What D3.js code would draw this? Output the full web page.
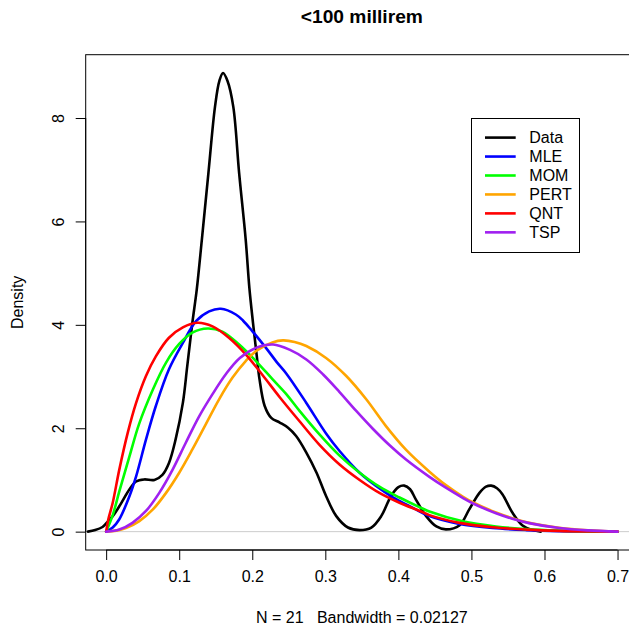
<!DOCTYPE html>
<html>
<head>
<meta charset="utf-8">
<script src="https://cdn.jsdelivr.net/npm/d3@7"></script>
<style>
  html, body { margin: 0; padding: 0; background: #fff; }
  svg { display: block; font-family: "Liberation Sans", Arial, Helvetica, sans-serif; }
</style>
</head>
<body>
<svg id="chart" width="629" height="631"></svg>
<script>
// Kernel density of the observations and the fitted densities, as [x, density] pairs
const dataDensity = [
  [-0.025, 0.00], [-0.015, 0.03], [-0.005, 0.09], [0.0, 0.16], [0.009, 0.30], [0.018, 0.49],
  [0.032, 0.82], [0.041, 0.97], [0.052, 1.01], [0.066, 1.00], [0.077, 1.10], [0.086, 1.33],
  [0.095, 1.78], [0.105, 2.49], [0.111, 3.20], [0.118, 4.04], [0.124, 4.68], [0.131, 5.65],
  [0.140, 6.94], [0.149, 8.22], [0.155, 8.72], [0.160, 8.87], [0.166, 8.72], [0.174, 8.22],
  [0.182, 6.94], [0.191, 5.65], [0.196, 4.72], [0.201, 4.04], [0.206, 3.42], [0.210, 2.94],
  [0.217, 2.43], [0.226, 2.20], [0.2376, 2.11], [0.249, 2.01], [0.260, 1.85], [0.274, 1.53],
  [0.288, 1.14], [0.301, 0.69], [0.315, 0.30], [0.331, 0.08], [0.347, 0.03], [0.363, 0.08],
  [0.3765, 0.30], [0.390, 0.69], [0.400, 0.86], [0.408, 0.89], [0.416, 0.82], [0.424, 0.62],
  [0.438, 0.30], [0.452, 0.10], [0.465, 0.045], [0.4835, 0.12], [0.497, 0.43], [0.511, 0.75],
  [0.520, 0.87], [0.527, 0.89], [0.535, 0.84], [0.5426, 0.72], [0.556, 0.37], [0.570, 0.12],
  [0.584, 0.03], [0.595, 0.00]
];
const mleDensity = [
  [0, 0], [0.009, 0.08], [0.018, 0.24], [0.032, 0.69], [0.041, 1.07], [0.0545, 1.78],
  [0.068, 2.43], [0.086, 3.14], [0.105, 3.65], [0.123, 4.07], [0.141, 4.26], [0.157, 4.31],
  [0.1775, 4.20], [0.1875, 4.08], [0.200, 3.88], [0.219, 3.55], [0.2335, 3.28], [0.247, 3.05],
  [0.274, 2.49], [0.301, 1.90], [0.3195, 1.56], [0.347, 1.14], [0.370, 0.88], [0.392, 0.67],
  [0.420, 0.46], [0.4425, 0.30], [0.4835, 0.15], [0.529, 0.07], [0.575, 0.03], [0.62, 0.01],
  [0.66, 0.003], [0.7, 0]
];
const momDensity = [
  [0, 0], [0.009, 0.32], [0.018, 0.78], [0.032, 1.46], [0.045, 2.08], [0.064, 2.75],
  [0.082, 3.27], [0.100, 3.63], [0.118, 3.85], [0.139, 3.93], [0.159, 3.87], [0.182, 3.62],
  [0.205, 3.30], [0.2276, 2.95], [0.246, 2.67], [0.265, 2.33], [0.292, 1.88], [0.3195, 1.47],
  [0.347, 1.14], [0.374, 0.87], [0.4015, 0.66], [0.4295, 0.47], [0.4425, 0.39], [0.488, 0.20],
  [0.5336, 0.10], [0.579, 0.045], [0.62, 0.02], [0.66, 0.006], [0.7, 0]
];
const pertDensity = [
  [0, 0], [0.014, 0.02], [0.027, 0.07], [0.045, 0.20], [0.064, 0.43], [0.082, 0.75],
  [0.100, 1.14], [0.118, 1.59], [0.1365, 2.08], [0.1546, 2.56], [0.173, 2.98], [0.191, 3.30],
  [0.2057, 3.50], [0.2276, 3.66], [0.242, 3.70], [0.258, 3.67], [0.274, 3.59], [0.301, 3.36],
  [0.3287, 3.01], [0.356, 2.56], [0.383, 2.04], [0.4106, 1.58], [0.4425, 1.16], [0.465, 0.90],
  [0.488, 0.68], [0.5016, 0.57], [0.5336, 0.37], [0.556, 0.26], [0.579, 0.17], [0.62, 0.075],
  [0.66, 0.025], [0.7, 0]
];
const qntDensity = [
  [0, 0], [0.003, 0.24], [0.009, 0.56], [0.018, 1.20], [0.0295, 1.91], [0.041, 2.49],
  [0.0545, 3.01], [0.068, 3.39], [0.086, 3.75], [0.105, 3.95], [0.125, 4.04], [0.1456, 3.97],
  [0.168, 3.75], [0.191, 3.43], [0.214, 3.03], [0.2376, 2.60], [0.265, 2.13], [0.292, 1.68],
  [0.3195, 1.30], [0.347, 1.00], [0.374, 0.75], [0.4015, 0.56], [0.4295, 0.40], [0.4425, 0.32],
  [0.4835, 0.17], [0.529, 0.085], [0.575, 0.04], [0.62, 0.015], [0.66, 0.005], [0.7, 0]
];
const tspDensity = [
  [0, 0], [0.018, 0.04], [0.036, 0.17], [0.0545, 0.40], [0.0727, 0.75], [0.091, 1.20],
  [0.109, 1.72], [0.1273, 2.23], [0.1456, 2.66], [0.164, 3.05], [0.183, 3.36], [0.2057, 3.56],
  [0.2285, 3.62], [0.251, 3.52], [0.274, 3.33], [0.297, 3.04], [0.3195, 2.70], [0.342, 2.34],
  [0.365, 1.99], [0.388, 1.67], [0.41, 1.40], [0.4425, 1.06], [0.465, 0.85], [0.488, 0.655],
  [0.5016, 0.55], [0.5336, 0.355], [0.556, 0.25], [0.579, 0.165], [0.62, 0.07], [0.66, 0.024],
  [0.7, 0]
];

const seriesNames = ["Data", "MLE", "MOM", "PERT", "QNT", "TSP"];
const xTicks = [0, 0.1, 0.2, 0.3, 0.4, 0.5, 0.6, 0.7];
const yTicks = [0, 2, 4, 6, 8];
const xLimits = [0, 0.7];
const yLimits = [0, 8.87];
const titleText = "<100 millirem";
const xLabelText = "N = 21   Bandwidth = 0.02127";
const yLabelText = "Density";

const seriesColors = {
  Data: "#000000", MLE: "#0000FF", MOM: "#00FF00",
  PERT: "#FFA500", QNT: "#FF0000", TSP: "#A020F0"
};
const seriesValues = {
  Data: dataDensity, MLE: mleDensity, MOM: momDensity,
  PERT: pertDensity, QNT: qntDensity, TSP: tspDensity
};

// plot region (axis limits padded by 4% on each side)
const plot = { left: 85.7, top: 54.7, right: 638, bottom: 550 };
const pad = (lim) => { const r = lim[1] - lim[0]; return [lim[0] - 0.04 * r, lim[1] + 0.04 * r]; };

const x = d3.scaleLinear().domain(pad(xLimits)).range([plot.left, plot.right]);
const y = d3.scaleLinear().domain(pad(yLimits)).range([plot.bottom, plot.top]);

const svg = d3.select("#chart");

svg.append("defs").append("clipPath").attr("id", "plotClip")
  .append("rect")
  .attr("x", plot.left).attr("y", plot.top)
  .attr("width", plot.right - plot.left).attr("height", plot.bottom - plot.top);

// zero reference line
svg.append("line")
  .attr("clip-path", "url(#plotClip)")
  .attr("x1", plot.left).attr("x2", plot.right)
  .attr("y1", y(0)).attr("y2", y(0))
  .attr("stroke", "#cccccc").attr("stroke-width", 1);

const line = d3.line()
  .x(d => x(d[0]))
  .y(d => y(d[1]))
  .curve(d3.curveCatmullRom.alpha(0.5));

const curves = svg.append("g").attr("clip-path", "url(#plotClip)");
seriesNames.forEach(name => {
  curves.append("path")
    .datum(seriesValues[name])
    .attr("d", line)
    .attr("fill", "none")
    .attr("stroke", seriesColors[name])
    .attr("stroke-width", 2.6)
    .attr("stroke-linejoin", "round")
    .attr("stroke-linecap", "round");
});

// plot box
svg.append("rect")
  .attr("x", plot.left).attr("y", plot.top)
  .attr("width", plot.right - plot.left).attr("height", plot.bottom - plot.top)
  .attr("fill", "none").attr("stroke", "#000").attr("stroke-width", 1);

// x axis
const xAxis = svg.append("g")
  .attr("transform", `translate(0,${plot.bottom})`)
  .call(d3.axisBottom(x).tickValues(xTicks).tickSize(10).tickPadding(11).tickFormat(d3.format(".1f")));
xAxis.select(".domain").attr("d", `M${x(xTicks[0])},0H${x(xTicks[xTicks.length - 1])}`).attr("stroke", "#000");
xAxis.selectAll(".tick line").attr("stroke", "#000");
xAxis.selectAll(".tick text").attr("font-size", 16).attr("fill", "#000")
  .attr("font-family", "Liberation Sans, Arial, sans-serif");

// y axis with labels rotated parallel to the axis
const yAxis = svg.append("g")
  .attr("transform", `translate(${plot.left},0)`)
  .call(d3.axisLeft(y).tickValues(yTicks).tickSize(10).tickFormat(d3.format("d")));
yAxis.select(".domain").attr("d", `M0,${y(yTicks[0])}V${y(yTicks[yTicks.length - 1])}`).attr("stroke", "#000");
yAxis.selectAll(".tick line").attr("stroke", "#000");
yAxis.selectAll(".tick text")
  .attr("x", null).attr("dy", null)
  .attr("text-anchor", "middle")
  .attr("transform", `translate(${64 - plot.left},0) rotate(-90)`)
  .attr("font-size", 16).attr("fill", "#000")
  .attr("font-family", "Liberation Sans, Arial, sans-serif");

// titles
const cx = (plot.left + plot.right) / 2;
svg.append("text")
  .attr("x", cx).attr("y", 22.5)
  .attr("text-anchor", "middle")
  .attr("font-size", 19.2).attr("font-weight", "bold")
  .text(titleText);
svg.append("text")
  .attr("x", cx).attr("y", 623.3)
  .attr("text-anchor", "middle")
  .attr("font-size", 16)
  .style("white-space", "pre")
  .text(xLabelText);
svg.append("text")
  .attr("transform", `translate(23,${(plot.top + plot.bottom) / 2}) rotate(-90)`)
  .attr("text-anchor", "middle")
  .attr("font-size", 16)
  .text(yLabelText);

// legend
const legend = svg.append("g");
legend.append("rect")
  .attr("x", 471.5).attr("y", 118.5)
  .attr("width", 108).attr("height", 134)
  .attr("fill", "#fff").attr("stroke", "#000").attr("stroke-width", 1);
seriesNames.forEach((name, i) => {
  const ry = 137.6 + i * 18.95;
  legend.append("line")
    .attr("x1", 485).attr("x2", 515.7)
    .attr("y1", ry).attr("y2", ry)
    .attr("stroke", seriesColors[name]).attr("stroke-width", 2.6);
  legend.append("text")
    .attr("x", 529.3).attr("y", ry + 5.7)
    .attr("font-size", 16)
    .text(name);
});
</script>
</body>
</html>
